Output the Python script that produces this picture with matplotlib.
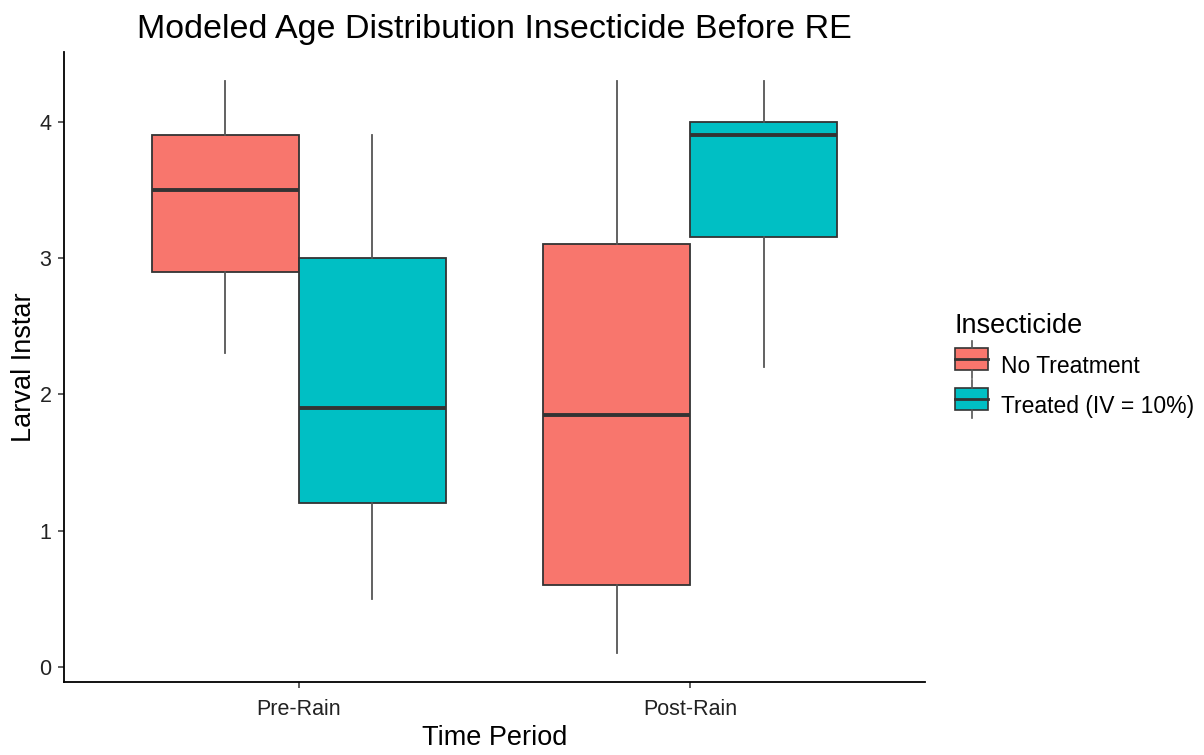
import matplotlib
matplotlib.use("Agg")
import matplotlib.pyplot as plt
from matplotlib.legend_handler import HandlerBase
from matplotlib.patches import Rectangle, Patch
from matplotlib.lines import Line2D

plt.rcParams['font.family'] = ['Liberation Sans', 'DejaVu Sans']

# data
periods = ['Pre-Rain', 'Post-Rain']
groups = ['No Treatment', 'Treated (IV = 10%)']
colors = ['#F8766D', '#00BFC4']

# per group, per period: lower whisker, q1, median, q3, upper whisker
whislo = [[2.3, 0.1], [0.5, 2.2]]
q1 = [[2.9, 0.6], [1.2, 3.15]]
med = [[3.5, 1.85], [1.9, 3.9]]
q3 = [[3.9, 3.1], [3.0, 4.0]]
whishi = [[4.3, 4.3], [3.9, 4.3]]

edge = '#333333'

fig = plt.figure(figsize=(12.04, 7.55), dpi=100)
ax = fig.add_axes([0.0532, 0.0967, 0.7150, 0.8344])

dodge = 0.375
for g in range(len(groups)):
    stats = []
    for p in range(len(periods)):
        stats.append(dict(whislo=whislo[g][p], q1=q1[g][p], med=med[g][p],
                          q3=q3[g][p], whishi=whishi[g][p], fliers=[]))
    pos = [i + 1 + (g - 0.5) * dodge for i in range(len(periods))]
    ax.bxp(stats, positions=pos, widths=dodge, patch_artist=True,
           showcaps=False, showfliers=False,
           boxprops=dict(facecolor=colors[g], edgecolor=edge, linewidth=1.3),
           whiskerprops=dict(color='#555555', linewidth=1.3),
           medianprops=dict(color=edge, linewidth=2.8))

ax.set_xlim(0.4, 2.6)
ax.set_ylim(-0.11, 4.51)
ax.set_xticks([1, 2])
ax.set_xticklabels(periods)
ax.set_yticks([0, 1, 2, 3, 4])

for s in ['top', 'right']:
    ax.spines[s].set_visible(False)
for s in ['left', 'bottom']:
    ax.spines[s].set_color('black')
    ax.spines[s].set_linewidth(1.3)
ax.tick_params(length=4, width=1.1, color='#333333', labelsize=15.5,
               labelcolor='#222222')
ax.tick_params(axis='x', pad=8)
ax.tick_params(axis='y', pad=5)

ax.set_xlabel('Time Period', fontsize=19.5, labelpad=4)
ax.set_ylabel('Larval Instar', fontsize=19.5, labelpad=2)
ax.set_title('Modeled Age Distribution Insecticide Before RE', fontsize=24.5, pad=10)


class BoxKey(HandlerBase):
    def create_artists(self, legend, orig, xd, yd, width, height, fontsize, trans):
        cx = xd + width / 2
        r = Rectangle((xd, yd), width, height, facecolor=orig.get_facecolor(),
                      edgecolor=edge, linewidth=1.2, transform=trans)
        m = Line2D([xd, xd + width], [yd + height / 2] * 2, color=edge, lw=2.0, transform=trans)
        w1 = Line2D([cx, cx], [yd + height, yd + height * 1.35], color='#555555', lw=1.2, transform=trans)
        w2 = Line2D([cx, cx], [yd, yd - height * 0.35], color='#555555', lw=1.2, transform=trans)
        return [r, m, w1, w2]


handles = [Patch(facecolor=c) for c in colors]
leg = fig.legend(handles, groups, handler_map={Patch: BoxKey()},
                 loc='center left', bbox_to_anchor=(0.776, 0.516), frameon=False,
                 title='Insecticide', fontsize=16.5, title_fontsize=19.5,
                 handlelength=1.45, handleheight=1.1, labelspacing=0.7,
                 handletextpad=0.55, alignment='left')

fig.savefig('out.png', dpi=100)
